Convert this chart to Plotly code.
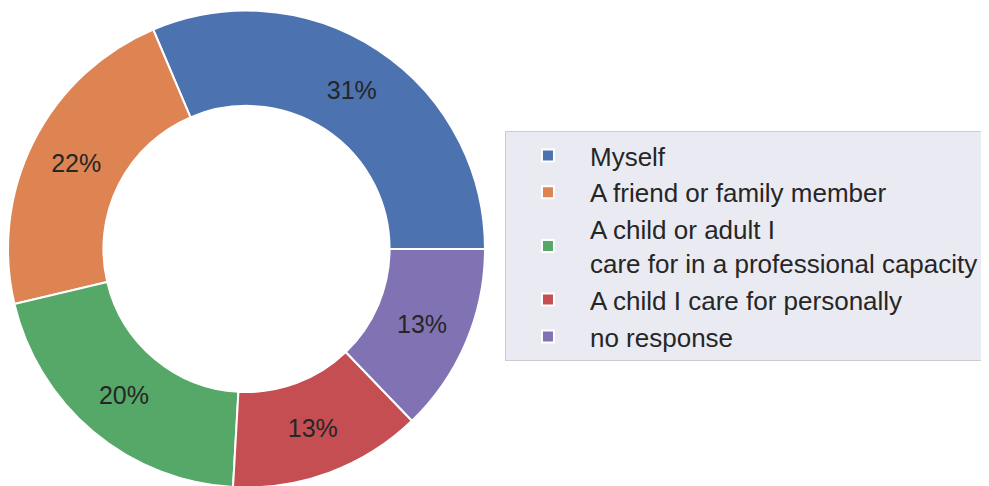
import plotly.graph_objects as go

labels = [
    "Myself",
    "A friend or family member",
    "A child or adult I<br>care for in a professional capacity",
    "A child I care for personally",
    "no response",
]
values = [31.4, 22.3, 20.4, 13.1, 12.8]
colors = ["#4C72B0", "#DD8452", "#55A868", "#C44E52", "#8172B3"]

# first slice starts at 3 o'clock and slices run counterclockwise (matplotlib default)
first_angle = 360.0 * values[0] / sum(values)

fig = go.Figure(
    go.Pie(
        labels=labels,
        values=values,
        hole=0.6,
        sort=False,
        direction="counterclockwise",
        rotation=90 - first_angle,
        marker=dict(colors=colors, line=dict(color="white", width=2)),
        texttemplate="%{percent:.0%}",
        textposition="inside",
        insidetextorientation="horizontal",
        textfont=dict(family="Liberation Sans, Arial, sans-serif", size=25, color="#262626"),
        domain=dict(x=[0.0, 0.4823], y=[0.0134, 0.9949]),
        hoverinfo="label+percent",
    )
)

fig.update_layout(
    width=989,
    height=486,
    margin=dict(l=0, r=0, t=0, b=0),
    paper_bgcolor="white",
    plot_bgcolor="white",
    font=dict(family="Liberation Sans, Arial, sans-serif", size=26, color="#262626"),
    showlegend=True,
    legend=dict(
        x=0.5025,
        y=0.7469,
        xanchor="left",
        yanchor="top",
        bgcolor="#EAEAF2",
        bordercolor="#CCCCCC",
        borderwidth=1,
        itemwidth=74,
        font=dict(size=26, color="#262626"),
        traceorder="normal",
    ),
)

fig.write_html("out.html")
